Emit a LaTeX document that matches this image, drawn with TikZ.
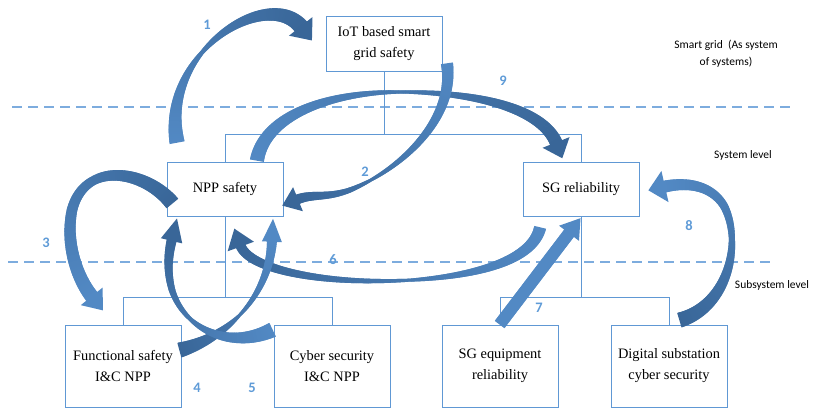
\documentclass[tikz,border=0pt]{standalone}
\usepackage{fontspec}
\setmainfont{Liberation Serif}
\newfontfamily\labfont{Carlito}
\usetikzlibrary{decorations.markings}
\definecolor{boxblue}{RGB}{96,152,212}
\definecolor{dashblue}{RGB}{125,172,222}
\definecolor{numblue}{RGB}{95,155,215}
\definecolor{alight}{RGB}{82,137,196}
\definecolor{adark}{RGB}{57,102,152}
% #1 path, #2 tail width, #3 mid width, #4 end width, #5 head width, #6 head length, #7 start colour, #8 end colour, #9 position of mid width
\newcommand\bandarrow[9]{%
  \path[decorate,decoration={markings,
    mark=between positions 0 and 1 step 0.7pt with {%
      \pgfmathsetmacro\ff{\pgfkeysvalueof{/pgf/decoration/mark info/distance from start}/\pgfdecoratedpathlength}%
      \pgfmathsetmacro\ww{\ff<#9 ? #2+(#3-#2)*\ff/#9 : #3+(#4-#3)*(\ff-#9)/(1-#9)}%
      \pgfmathtruncatemacro\cc{100-100*\ff}%
      \fill[#7!\cc!#8] (-0.7pt,{-0.5*\ww*1pt}) rectangle (0.7pt,{0.5*\ww*1pt});%
    }}] #1;%
  \path[decorate,decoration={markings,
    mark=at position 0.995 with {\fill[#8] (-1pt,{-0.5*#5*1pt}) -- ({#6*1pt},0pt) -- (-1pt,{0.5*#5*1pt}) -- cycle;}
  }] #1;%
}
\begin{document}
\begin{tikzpicture}[x=1pt,y=-1pt,
  box/.style={draw=boxblue,line width=0.9pt,fill=white,minimum width=116pt,align=center,inner sep=2pt,font=\fontsize{14.4}{21}\selectfont},
  tree/.style={draw=boxblue,line width=0.9pt},
  dashline/.style={draw=dashblue,line width=1.1pt,dash pattern=on 10pt off 6pt},
  num/.style={text=numblue,font=\labfont\bfseries\fontsize{14.5}{14.5}\selectfont},
  lab/.style={font=\labfont\fontsize{11.5}{17}\selectfont,align=center}]
\useasboundingbox (0,0) rectangle (814,409);
% level separators
\coordinate (d1a) at (12,107); \coordinate (d1b) at (790,107);
\coordinate (d2a) at (8,262); \coordinate (d2b) at (775,262);
\draw[dashline] (d1a) -- (d1b);
\draw[dashline] (d2a) -- (d2b);
% boxes
\node[box,minimum height=55pt] (iot) at (384,43.5) {IoT based smart\\grid safety};
\node[box,minimum height=54pt] (npp) at (225,189) {NPP safety};
\node[box,minimum height=54pt] (sg) at (581,189) {SG reliability};
\node[box,minimum height=82pt] (fs) at (123,366) {Functional safety\\I\&C NPP};
\node[box,minimum height=82pt] (cs) at (332,366) {Cyber security\\I\&C NPP};
\node[box,minimum height=82pt] (se) at (500,366) {SG equipment\\reliability};
\node[box,minimum height=82pt] (ds) at (669,366) {Digital substation\\cyber security};
% tree
\coordinate (busA) at (0,134);
\coordinate (busB) at (0,297);
\draw[tree] (iot.south) -- (iot.south|-busA);
\draw[tree] (npp.north) -- (npp.north|-busA) -- (sg.north|-busA) -- (sg.north);
\draw[tree] (npp.south) -- (npp.south|-busB);
\draw[tree] (fs.north) -- (fs.north|-busB) -- (cs.north|-busB) -- (cs.north);
\draw[tree] (sg.south) -- (sg.south|-busB);
\draw[tree] (se.north) -- (se.north|-busB) -- (ds.north|-busB) -- (ds.north);
% arrow end points
\coordinate (a1s) at (177,142); \coordinate (a1e) at (302,28);
\coordinate (a2s) at (447,64);  \coordinate (a2e) at (296,200);
\coordinate (a3s) at (172,203); \coordinate (a3e) at (93,298);
\coordinate (a4s) at (180,350); \coordinate (a4e) at (272,240);
\coordinate (a5s) at (272,330); \coordinate (a5e) at (172,239);
\coordinate (a6s) at (540,228); \coordinate (a6e) at (240,244);
\coordinate (a7s) at (500,324); \coordinate (a7e) at (570,232);
\coordinate (a8s) at (680,320); \coordinate (a8e) at (663,187);
\coordinate (a9s) at (257,160); \coordinate (a9e) at (557,145);
% arrows
\bandarrow{(a9s) .. controls (265,115) and (330,92) .. (400,92) .. controls (480,92) and (545,110) .. (a9e)}{14}{3}{13}{29}{16}{alight}{adark}{0.5}
\bandarrow{(a2s) .. controls (455,120) and (400,170) .. (350,190) .. controls (325,199) and (312,193) .. (a2e)}{12}{3}{10}{26}{16}{alight}{adark}{0.65}
\bandarrow{(a1s) .. controls (160,50) and (270,-15) .. (a1e)}{15}{4}{16}{30}{17}{alight}{adark}{0.45}
\bandarrow{(a3s) .. controls (145,170) and (85,160) .. (72,210) .. controls (65,245) and (78,280) .. (a3e)}{15}{9}{14}{28}{17}{adark}{alight}{0.4}
\bandarrow{(a6s) .. controls (530,270) and (440,282) .. (370,281) .. controls (300,280) and (245,265) .. (a6e)}{12}{3}{10}{28}{18}{alight}{adark}{0.45}
\bandarrow{(a4s) .. controls (235,335) and (270,290) .. (a4e)}{15}{3}{10}{20}{22}{adark}{alight}{0.45}
\bandarrow{(a5s) .. controls (230,350) and (185,330) .. (172,290) .. controls (167,272) and (168,255) .. (a5e)}{15}{4}{10}{22}{22}{alight}{adark}{0.5}
\bandarrow{(a7s) -- (a7e)}{12}{12}{12}{25}{18}{alight}{alight}{0.5}
\bandarrow{(a8s) .. controls (730,305) and (742,240) .. (724,206) .. controls (712,186) and (688,181) .. (a8e)}{15}{6}{12}{32}{16}{adark}{alight}{0.5}
% numbers
\node[num] (n1) at (207,25) {1};
\node[num] (n2) at (365,172) {2};
\node[num] (n3) at (46,243) {3};
\node[num] (n4) at (197,388) {4};
\node[num] (n5) at (252,388) {5};
\node[num] (n6) at (333,260) {6};
\node[num] (n7) at (539,308) {7};
\node[num] (n8) at (689,226) {8};
\node[num] (n9) at (503,81) {9};
% level labels
\node[lab] (tsg) at (726,53.5) {Smart grid\ \ (As system\\of systems)};
\node[lab] (tsys) at (743,155) {System level};
\node[lab] (tsub) at (772,285) {Subsystem level};
\end{tikzpicture}
\end{document}
